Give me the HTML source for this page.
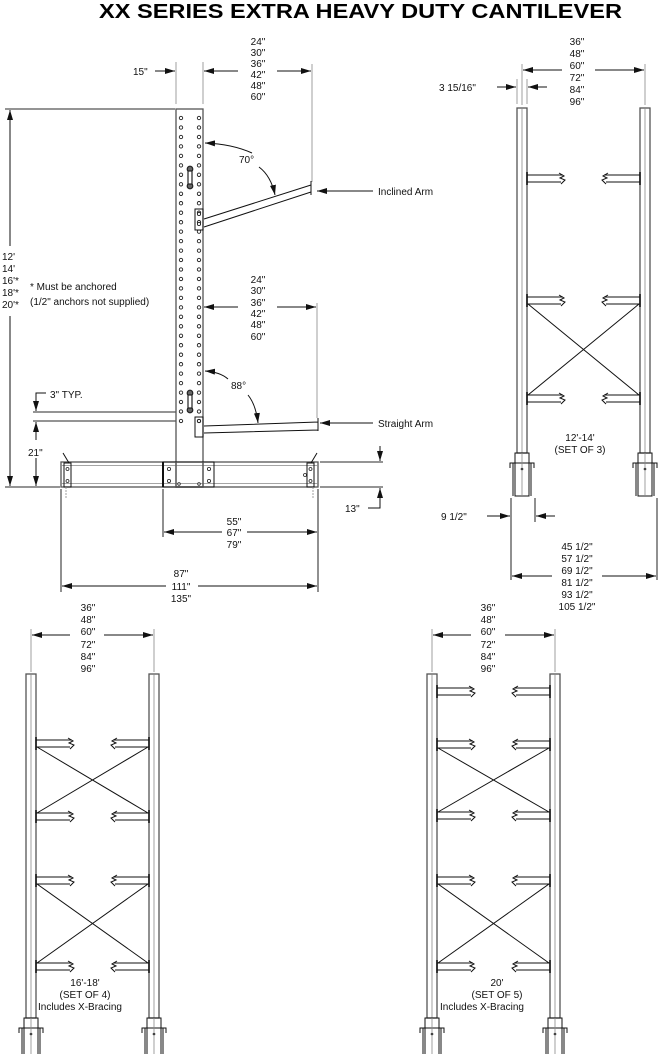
<!DOCTYPE html>
<html><head><meta charset="utf-8">
<style>
html,body{margin:0;padding:0;background:#fff;}
svg{display:block;}
text{font-family:"Liberation Sans",Arial,sans-serif;font-size:10px;fill:#111;}
.c{text-anchor:middle;}
.s{stroke:#555;stroke-width:1.3;fill:none;}
.k{stroke:#111;stroke-width:1;fill:none;}
.d{stroke:#111;stroke-width:1;fill:none;}
.g{stroke:#888;stroke-width:0.8;fill:none;}
.h{stroke:#222;stroke-width:0.9;fill:#fff;}
</style></head><body>
<svg width="658" height="1054" viewBox="0 0 658 1054" xmlns="http://www.w3.org/2000/svg">
<defs>
<marker id="a" viewBox="0 0 10 6" refX="10" refY="3" markerWidth="10" markerHeight="6" markerUnits="userSpaceOnUse" orient="auto-start-reverse"><path d="M0,0 L10,3 L0,6 z" fill="#111"/></marker>
<g id="stubL"><line x1="0" y1="-3" x2="0" y2="10" stroke="#111" stroke-width="1.6"/><path class="k" d="M0,0 H36 M0,7 H34"/><path class="k" d="M32,-2 L37,1 L33,3 L38,5 L34,9"/></g>
<g id="stubR"><line x1="0" y1="-3" x2="0" y2="10" stroke="#111" stroke-width="1.6"/><path class="k" d="M0,0 H-36 M0,7 H-34"/><path class="k" d="M-32,-2 L-37,1 L-33,3 L-38,5 L-34,9"/></g>
<g id="foot"><rect x="-2" y="0" width="14" height="43" class="k"/><path class="k" d="M-7,15 V10 H-2 M17,15 V10 H12 M-2,10 H12 M-4,10 V43 M14,10 V43"/><circle cx="5" cy="16" r="1.3" fill="#111"/><line x1="5" y1="0" x2="5" y2="43" class="g"/></g>
</defs>

<text x="99" y="18" textLength="523" lengthAdjust="spacingAndGlyphs" style="font-size:20px;font-weight:bold;fill:#000;">XX SERIES EXTRA HEAVY DUTY CANTILEVER</text>

<!-- ===== SIDE VIEW ===== -->
<!-- column -->
<rect x="176" y="109" width="27" height="378" class="s"/>
<g fill="#fff" stroke="#222" stroke-width="0.9">
<circle cx="181" cy="118" r="1.7"/><circle cx="199" cy="118" r="1.7"/>
<circle cx="181" cy="127.5" r="1.7"/><circle cx="199" cy="127.5" r="1.7"/>
<circle cx="181" cy="137" r="1.7"/><circle cx="199" cy="137" r="1.7"/>
<circle cx="181" cy="146.4" r="1.7"/><circle cx="199" cy="146.4" r="1.7"/>
<circle cx="181" cy="155.9" r="1.7"/><circle cx="199" cy="155.9" r="1.7"/>
<circle cx="181" cy="165.4" r="1.7"/><circle cx="199" cy="165.4" r="1.7"/>
<circle cx="181" cy="174.8" r="1.7"/><circle cx="199" cy="174.8" r="1.7"/>
<circle cx="181" cy="184.3" r="1.7"/><circle cx="199" cy="184.3" r="1.7"/>
<circle cx="181" cy="193.8" r="1.7"/><circle cx="199" cy="193.8" r="1.7"/>
<circle cx="181" cy="203.2" r="1.7"/><circle cx="199" cy="203.2" r="1.7"/>
<circle cx="181" cy="212.7" r="1.7"/><circle cx="199" cy="212.7" r="1.7"/>
<circle cx="181" cy="222.2" r="1.7"/><circle cx="199" cy="222.2" r="1.7"/>
<circle cx="181" cy="231.6" r="1.7"/><circle cx="199" cy="231.6" r="1.7"/>
<circle cx="181" cy="241.1" r="1.7"/><circle cx="199" cy="241.1" r="1.7"/>
<circle cx="181" cy="250.6" r="1.7"/><circle cx="199" cy="250.6" r="1.7"/>
<circle cx="181" cy="260" r="1.7"/><circle cx="199" cy="260" r="1.7"/>
<circle cx="181" cy="269.5" r="1.7"/><circle cx="199" cy="269.5" r="1.7"/>
<circle cx="181" cy="279" r="1.7"/><circle cx="199" cy="279" r="1.7"/>
<circle cx="181" cy="288.4" r="1.7"/><circle cx="199" cy="288.4" r="1.7"/>
<circle cx="181" cy="297.9" r="1.7"/><circle cx="199" cy="297.9" r="1.7"/>
<circle cx="181" cy="307.4" r="1.7"/><circle cx="199" cy="307.4" r="1.7"/>
<circle cx="181" cy="316.8" r="1.7"/><circle cx="199" cy="316.8" r="1.7"/>
<circle cx="181" cy="326.3" r="1.7"/><circle cx="199" cy="326.3" r="1.7"/>
<circle cx="181" cy="335.8" r="1.7"/><circle cx="199" cy="335.8" r="1.7"/>
<circle cx="181" cy="345.2" r="1.7"/><circle cx="199" cy="345.2" r="1.7"/>
<circle cx="181" cy="354.7" r="1.7"/><circle cx="199" cy="354.7" r="1.7"/>
<circle cx="181" cy="364.2" r="1.7"/><circle cx="199" cy="364.2" r="1.7"/>
<circle cx="181" cy="373.6" r="1.7"/><circle cx="199" cy="373.6" r="1.7"/>
<circle cx="181" cy="383.1" r="1.7"/><circle cx="199" cy="383.1" r="1.7"/>
<circle cx="181" cy="392.6" r="1.7"/><circle cx="199" cy="392.6" r="1.7"/>
<circle cx="181" cy="402" r="1.7"/><circle cx="199" cy="402" r="1.7"/>
<circle cx="181" cy="411.5" r="1.7"/><circle cx="199" cy="411.5" r="1.7"/>
<circle cx="181" cy="421" r="1.7"/><circle cx="199" cy="421" r="1.7"/>
</g>
<!-- lock slots -->
<g stroke="#222" stroke-width="1.2" fill="#fff">
<circle cx="190" cy="169" r="2.8" fill="#666"/><circle cx="190" cy="186" r="2.8" fill="#666"/><rect x="188" y="171" width="4" height="13"/>
<circle cx="190" cy="393" r="2.8" fill="#666"/><circle cx="190" cy="410" r="2.8" fill="#666"/><rect x="188" y="395" width="4" height="13"/>
</g>
<!-- inclined arm -->
<rect x="195" y="209" width="8" height="21" class="k" fill="#fff"/>
<circle cx="199" cy="214" r="1.6" class="h"/><circle cx="199" cy="224" r="1.6" class="h"/>
<path class="k" d="M204,219 L311,185 M204,227 L311,192 M311,181 V195"/>
<!-- straight arm -->
<rect x="195" y="417" width="8" height="20" class="k" fill="#fff"/>
<circle cx="199" cy="421" r="1.6" class="h"/>
<path class="k" d="M204,426 L318,422 M204,433 L318,430 M318,418 V431"/>
<!-- base -->
<rect x="61" y="462" width="257" height="25" class="s"/>
<path class="g" d="M61,465.5 H318 M61,483.5 H318"/>
<rect x="163" y="462" width="51" height="25" class="k"/>
<line x1="163" y1="462" x2="163" y2="487" stroke="#111" stroke-width="2"/>
<path class="s" d="M176,462 V487 M203,462 V487"/>
<rect x="64" y="463" width="7" height="24" class="k" fill="#fff"/>
<rect x="307" y="463" width="7" height="24" class="k" fill="#fff"/>
<path class="k" d="M63,453 L69,463 M317,453 L311,463"/>
<g fill="#fff" stroke="#222" stroke-width="0.8">
<circle cx="67.5" cy="469" r="1.5"/><circle cx="67.5" cy="481" r="1.5"/><circle cx="310.5" cy="469" r="1.5"/><circle cx="310.5" cy="481" r="1.5"/><circle cx="305" cy="475" r="1.5"/>
<circle cx="169" cy="469" r="1.6"/><circle cx="169" cy="481" r="1.6"/><circle cx="209" cy="469" r="1.6"/><circle cx="209" cy="481" r="1.6"/><circle cx="179" cy="484" r="1.3"/><circle cx="199" cy="484" r="1.3"/>
</g>
<path class="g" stroke-dasharray="2,1" d="M66,487 V498 M313,487 V498"/>

<!-- side dims -->
<path class="g" d="M176,62 V104 M203,62 V104 M312,64 V182 M317,303 V418"/>
<line x1="155" y1="71" x2="175" y2="71" class="d" marker-end="url(#a)"/>
<text x="133" y="75">15"</text>
<line x1="204" y1="71" x2="238" y2="71" class="d" marker-start="url(#a)"/>
<line x1="277" y1="71" x2="311" y2="71" class="d" marker-end="url(#a)"/>
<text class="c" x="258" y="45">24"</text><text class="c" x="258" y="56">30"</text><text class="c" x="258" y="67">36"</text><text class="c" x="258" y="78">42"</text><text class="c" x="258" y="89">48"</text><text class="c" x="258" y="100">60"</text>
<path class="d" d="M252,153 Q232,144 205,143" marker-end="url(#a)"/>
<path class="d" d="M259,167 Q271,176 275,195" marker-end="url(#a)"/>
<text x="239" y="163">70°</text>
<line x1="373" y1="191" x2="317" y2="191" class="d" marker-end="url(#a)"/>
<text x="378" y="195">Inclined Arm</text>

<line x1="204" y1="307" x2="238" y2="307" class="d" marker-start="url(#a)"/>
<line x1="277" y1="307" x2="316" y2="307" class="d" marker-end="url(#a)"/>
<text class="c" x="258" y="283">24"</text><text class="c" x="258" y="294">30"</text><text class="c" x="258" y="306">36"</text><text class="c" x="258" y="317">42"</text><text class="c" x="258" y="328">48"</text><text class="c" x="258" y="340">60"</text>
<path class="d" d="M228,379 Q220,372 205,371" marker-end="url(#a)"/>
<path class="d" d="M248,395 Q256,405 258,423" marker-end="url(#a)"/>
<text x="231" y="389">88°</text>
<line x1="373" y1="423" x2="320" y2="423" class="d" marker-end="url(#a)"/>
<text x="378" y="427">Straight Arm</text>

<!-- height -->
<line x1="5" y1="109" x2="175" y2="109" class="s"/>
<line x1="10" y1="246" x2="10" y2="110" class="d" marker-end="url(#a)"/>
<line x1="10" y1="316" x2="10" y2="486" class="d" marker-end="url(#a)"/>
<text x="2" y="260">12'</text><text x="2" y="272">14'</text><text x="2" y="284">16'*</text><text x="2" y="296">18'*</text><text x="2" y="308">20'*</text>
<text x="30" y="290">* Must be anchored</text>
<text x="30" y="305">(1/2" anchors not supplied)</text>
<line x1="5" y1="487" x2="60" y2="487" class="s"/>
<!-- 3" typ / 21" -->
<path class="d" d="M46,393 H36 V400"/>
<line x1="36" y1="398" x2="36" y2="411" class="d" marker-end="url(#a)"/>
<text x="50" y="398">3" TYP.</text>
<path class="s" d="M33,412 H176 M33,421 H176"/>
<line x1="36" y1="440" x2="36" y2="422" class="d" marker-end="url(#a)"/>
<line x1="36" y1="458" x2="36" y2="486" class="d" marker-end="url(#a)"/>
<text x="28" y="456">21"</text>
<!-- 13" -->
<path class="s" d="M320,462 H383 M320,487 H383"/>
<line x1="380" y1="446" x2="380" y2="461" class="d" marker-end="url(#a)"/>
<path class="d" d="M368,508 H380 V498"/>
<line x1="380" y1="500" x2="380" y2="488" class="d" marker-end="url(#a)"/>
<text x="345" y="512">13"</text>
<!-- base dims -->
<path class="s" d="M163,489 V537 M318,489 V592 M61,489 V592"/>
<line x1="164" y1="532" x2="222" y2="532" class="d" marker-start="url(#a)"/>
<line x1="247" y1="532" x2="317" y2="532" class="d" marker-end="url(#a)"/>
<text class="c" x="234" y="525">55"</text><text class="c" x="234" y="536">67"</text><text class="c" x="234" y="548">79"</text>
<line x1="62" y1="586" x2="166" y2="586" class="d" marker-start="url(#a)"/>
<line x1="198" y1="586" x2="317" y2="586" class="d" marker-end="url(#a)"/>
<text class="c" x="181" y="577">87"</text><text class="c" x="181" y="590">111"</text><text class="c" x="181" y="602">135"</text>

<!-- ===== FRONT VIEW 12-14 ===== -->
<path class="g" d="M517,79 V104 M527,79 V104 M522,64 V105 M645,64 V105"/>
<line x1="497" y1="87" x2="516" y2="87" class="d" marker-end="url(#a)"/>
<line x1="547" y1="87" x2="528" y2="87" class="d" marker-end="url(#a)"/>
<text x="439" y="91">3 15/16"</text>
<line x1="523" y1="70" x2="562" y2="70" class="d" marker-start="url(#a)"/>
<line x1="595" y1="70" x2="644" y2="70" class="d" marker-end="url(#a)"/>
<text class="c" x="577" y="45">36"</text><text class="c" x="577" y="57">48"</text><text class="c" x="577" y="69">60"</text><text class="c" x="577" y="81">72"</text><text class="c" x="577" y="93">84"</text><text class="c" x="577" y="105">96"</text>
<rect x="517" y="108" width="10" height="345" class="s"/><line x1="522" y1="108" x2="522" y2="453" class="g"/>
<rect x="640" y="108" width="10" height="345" class="s"/><line x1="645" y1="108" x2="645" y2="453" class="g"/>
<use href="#stubL" x="527" y="175"/><use href="#stubL" x="527" y="297"/><use href="#stubL" x="527" y="395"/>
<use href="#stubR" x="640" y="175"/><use href="#stubR" x="640" y="297"/><use href="#stubR" x="640" y="395"/>
<path class="k" d="M528,304 L639,395 M639,304 L528,395"/>
<text class="c" x="580" y="441">12'-14'</text><text class="c" x="580" y="453">(SET OF 3)</text>
<use href="#foot" x="517" y="453"/><use href="#foot" x="640" y="453"/>
<path class="s" d="M511,498 V580 M535,498 V522 M657,498 V580"/>
<line x1="487" y1="516" x2="510" y2="516" class="d" marker-end="url(#a)"/>
<line x1="555" y1="516" x2="536" y2="516" class="d" marker-end="url(#a)"/>
<text x="441" y="520">9 1/2"</text>
<line x1="512" y1="576" x2="552" y2="576" class="d" marker-start="url(#a)"/>
<line x1="602" y1="576" x2="656" y2="576" class="d" marker-end="url(#a)"/>
<text class="c" x="577" y="550">45 1/2"</text><text class="c" x="577" y="562">57 1/2"</text><text class="c" x="577" y="574">69 1/2"</text><text class="c" x="577" y="586">81 1/2"</text><text class="c" x="577" y="598">93 1/2"</text><text class="c" x="577" y="610">105 1/2"</text>

<!-- ===== FRONT VIEW 16-18 ===== -->
<path class="g" d="M31,629 V672 M154,629 V672"/>
<line x1="32" y1="635" x2="70" y2="635" class="d" marker-start="url(#a)"/>
<line x1="104" y1="635" x2="153" y2="635" class="d" marker-end="url(#a)"/>
<text class="c" x="88" y="611">36"</text><text class="c" x="88" y="623">48"</text><text class="c" x="88" y="635">60"</text><text class="c" x="88" y="648">72"</text><text class="c" x="88" y="660">84"</text><text class="c" x="88" y="672">96"</text>
<rect x="26" y="674" width="10" height="344" class="s"/><line x1="31" y1="674" x2="31" y2="1018" class="g"/>
<rect x="149" y="674" width="10" height="344" class="s"/><line x1="154" y1="674" x2="154" y2="1018" class="g"/>
<use href="#stubL" x="36" y="740"/><use href="#stubL" x="36" y="813"/><use href="#stubL" x="36" y="877"/><use href="#stubL" x="36" y="963"/>
<use href="#stubR" x="149" y="740"/><use href="#stubR" x="149" y="813"/><use href="#stubR" x="149" y="877"/><use href="#stubR" x="149" y="963"/>
<path class="k" d="M37,747 L148,813 M148,747 L37,813 M37,884 L148,963 M148,884 L37,963"/>
<text class="c" x="85" y="986">16'-18'</text><text class="c" x="85" y="998">(SET OF 4)</text><text class="c" x="80" y="1010">Includes X-Bracing</text>
<use href="#foot" x="26" y="1018"/><use href="#foot" x="149" y="1018"/>

<!-- ===== FRONT VIEW 20 ===== -->
<path class="g" d="M432,629 V672 M555,629 V672"/>
<line x1="433" y1="635" x2="471" y2="635" class="d" marker-start="url(#a)"/>
<line x1="505" y1="635" x2="554" y2="635" class="d" marker-end="url(#a)"/>
<text class="c" x="488" y="611">36"</text><text class="c" x="488" y="623">48"</text><text class="c" x="488" y="635">60"</text><text class="c" x="488" y="648">72"</text><text class="c" x="488" y="660">84"</text><text class="c" x="488" y="672">96"</text>
<rect x="427" y="674" width="10" height="344" class="s"/><line x1="432" y1="674" x2="432" y2="1018" class="g"/>
<rect x="550" y="674" width="10" height="344" class="s"/><line x1="555" y1="674" x2="555" y2="1018" class="g"/>
<use href="#stubL" x="437" y="688"/><use href="#stubL" x="437" y="741"/><use href="#stubL" x="437" y="812"/><use href="#stubL" x="437" y="877"/><use href="#stubL" x="437" y="963"/>
<use href="#stubR" x="550" y="688"/><use href="#stubR" x="550" y="741"/><use href="#stubR" x="550" y="812"/><use href="#stubR" x="550" y="877"/><use href="#stubR" x="550" y="963"/>
<path class="k" d="M438,748 L549,812 M549,748 L438,812 M438,884 L549,963 M549,884 L438,963"/>
<text class="c" x="497" y="986">20'</text><text class="c" x="497" y="998">(SET OF 5)</text><text class="c" x="482" y="1010">Includes X-Bracing</text>
<use href="#foot" x="427" y="1018"/><use href="#foot" x="550" y="1018"/>
</svg>
</body></html>
